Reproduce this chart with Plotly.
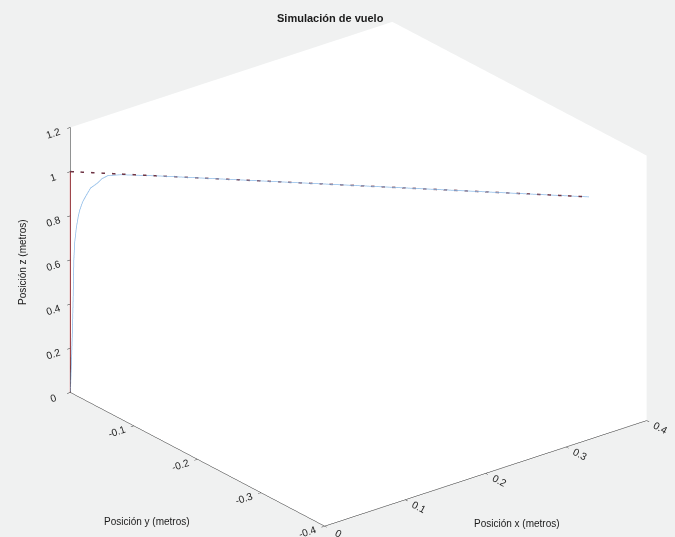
import plotly.graph_objects as go

# Reference trajectory (red)
ref_x = [0.0, 0.0, 0.36]
ref_y = [0.0, 0.0, -0.36]
ref_z = [0.0, 1.0, 1.0]

# Simulated trajectory (blue)
sim_x = [0, 0.0008, 0.0015, 0.002, 0.0024, 0.003, 0.0042, 0.0055, 0.0066, 0.0085,
         0.0105, 0.014, 0.019, 0.022, 0.026, 0.035, 0.06, 0.12, 0.2, 0.28, 0.36]
sim_y = [-v for v in sim_x]
sim_z = [0, 0.15, 0.3, 0.45, 0.6, 0.68, 0.75, 0.8, 0.83, 0.865,
         0.89, 0.93, 0.955, 0.975, 0.99, 0.997, 1.0, 1.0, 1.0, 1.0, 1.0]

x_ticks = [0, 0.1, 0.2, 0.3, 0.4]
y_ticks = [-0.4, -0.3, -0.2, -0.1, 0]
z_ticks = [0, 0.2, 0.4, 0.6, 0.8, 1.0, 1.2]

FONT = "Liberation Sans, Arial, sans-serif"
AX = "#262626"

fig = go.Figure()
fig.add_trace(go.Scatter3d(x=ref_x[:2], y=ref_y[:2], z=ref_z[:2], mode="lines",
                           line=dict(color="#e0303a", width=2), showlegend=False))
fig.add_trace(go.Scatter3d(x=ref_x[1:], y=ref_y[1:], z=ref_z[1:], mode="lines",
                           line=dict(color="#6e3444", width=3, dash="dash"), showlegend=False))
fig.add_trace(go.Scatter3d(x=sim_x, y=sim_y, z=sim_z, mode="lines",
                           line=dict(color="#8dbbe8", width=1.5), showlegend=False))

def axis(rng, ticks, labels):
    return dict(range=rng, tickvals=ticks, ticktext=labels, showgrid=False,
                zeroline=False, showline=True, linecolor=AX, linewidth=1,
                ticks="outside", ticklen=4, tickcolor=AX, showspikes=False,
                showbackground=True, backgroundcolor="white",
                title=dict(text=""), tickfont=dict(family=FONT, size=11, color=AX))

S = 1.56
fig.update_layout(
    width=675, height=537,
    margin=dict(l=0, r=0, t=0, b=0),
    paper_bgcolor="#f0f1f1",
    font=dict(family=FONT, color=AX),
    scene=dict(
        domain=dict(x=[0.06, 1.0], y=[0.0, 0.98]),
        xaxis=axis([0, 0.4], x_ticks, [str(t) for t in x_ticks]),
        yaxis=axis([-0.4, 0], y_ticks, [str(t) for t in y_ticks]),
        zaxis=axis([0, 1.2], z_ticks, ["0", "0.2", "0.4", "0.6", "0.8", "1", "1.2"]),
        aspectmode="manual", aspectratio=dict(x=1 * S, y=1 * S, z=0.71 * S),
        camera=dict(eye=dict(x=-0.5638 * 2.2, y=-0.7139 * 2.2, z=0.4153 * 2.2),
                    up=dict(x=0, y=0, z=1), center=dict(x=0, y=0, z=0),
                    projection=dict(type="orthographic")),
    ),
)

ann = [
    dict(text="<b>Simulación de vuelo</b>", px=330, py=18, angle=0, size=11),
    dict(text="Posición y (metros)", px=147, py=521, angle=0, size=10),
    dict(text="Posición x (metros)", px=517, py=523, angle=0, size=10),
    dict(text="Posición z (metros)", px=22, py=262, angle=-90, size=10),
]
for a in ann:
    fig.add_annotation(text=a["text"], x=a["px"] / 675, y=1 - a["py"] / 537,
                       xref="paper", yref="paper", showarrow=False,
                       textangle=a["angle"], xanchor="center", yanchor="middle",
                       font=dict(size=a["size"], family=FONT, color="#1a1a1a"))

fig.write_html("out.html")
